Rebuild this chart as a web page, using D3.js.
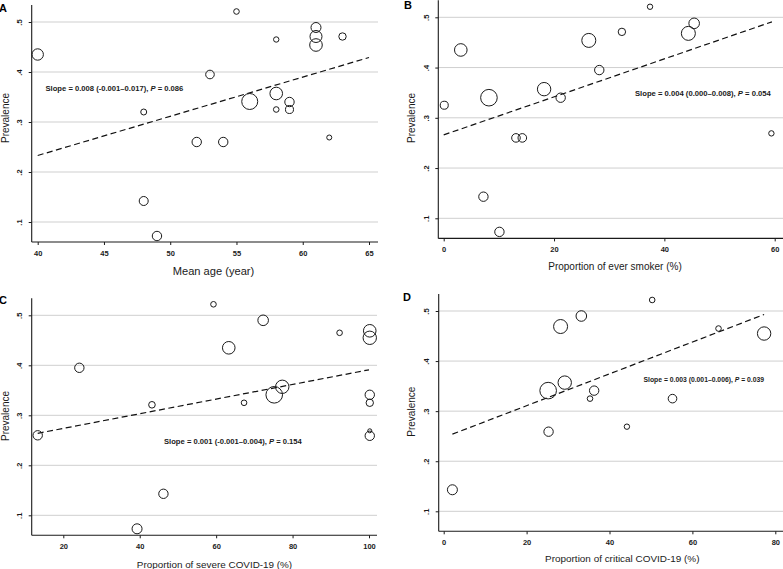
<!DOCTYPE html>
<html><head><meta charset="utf-8">
<script src="https://cdn.jsdelivr.net/npm/d3@7"></script>
<style>
html,body{margin:0;padding:0;background:#fff;}
svg{display:block;font-family:"Liberation Sans",Arial,Helvetica,sans-serif;}
</style></head>
<body>
<svg id="c" width="783" height="569"></svg>
<script>
// ---------- DATA ----------
// Panel A: mean age
const ageX = [40, 48, 48, 49, 52, 54, 53, 55, 56, 58, 58, 58, 59, 59, 61, 61, 61, 63, 62];
const ageY = [0.435, 0.32, 0.142, 0.072, 0.26, 0.26, 0.395, 0.521, 0.341, 0.357, 0.465, 0.325, 0.34, 0.325, 0.489, 0.471, 0.454, 0.471, 0.269];
const ageW = [330, 91, 206, 224, 224, 224, 188, 80, 650, 403, 74, 80, 224, 163, 254, 366, 403, 139, 64];
const ageFitX = [40, 65];
const ageFitY = [0.233, 0.429];

// Panel B: ever smoker
const smokeX = [0.1, 3.1, 8.2, 7.2, 10.1, 13.1, 14.25, 18.2, 21.2, 26.3, 28.2, 32.3, 37.4, 44.35, 45.4, 59.4];
const smokeY = [0.325, 0.435, 0.34, 0.143, 0.073, 0.26, 0.26, 0.357, 0.34, 0.454, 0.395, 0.471, 0.521, 0.468, 0.488, 0.269];
const smokeW = [163, 403, 700, 224, 224, 188, 188, 456, 224, 498, 224, 139, 74, 498, 285, 74];
const smokeFitX = [0, 59.5];
const smokeFitY = [0.266, 0.491];

// Panel C: severe COVID-19
const sevX = [13.3, 24.2, 43.2, 46.2, 39.3, 59.3, 72.3, 63.3, 92.3, 100.2, 100.2, 77.3, 75.2, 67.3, 100.2, 100.2, 100.2, 100.2];
const sevY = [0.26, 0.395, 0.321, 0.143, 0.073, 0.522, 0.49, 0.435, 0.465, 0.469, 0.455, 0.357, 0.341, 0.325, 0.341, 0.325, 0.269, 0.259];
const sevW = [224, 224, 111, 224, 254, 80, 285, 403, 80, 403, 456, 456, 700, 80, 224, 139, 41, 224];
const sevFitX = [13.3, 100];
const sevFitY = [0.264, 0.391];

// Panel D: critical COVID-19
const critX = [2.1, 25.3, 25.2, 29.2, 28.2, 33.2, 35.3, 36.3, 44.2, 50.3, 55.2, 66.3, 77.3];
const critY = [0.143, 0.259, 0.341, 0.357, 0.469, 0.49, 0.325, 0.341, 0.269, 0.522, 0.325, 0.465, 0.455];
const critW = [254, 224, 700, 456, 498, 285, 80, 224, 74, 80, 188, 80, 456];
const critFitX = [2.1, 77.3];
const critFitY = [0.254, 0.493];

const yTicks = [0.1, 0.2, 0.3, 0.4, 0.5];
const yTickLabels = [".1", ".2", ".3", ".4", ".5"];
const xTicksA = [40, 45, 50, 55, 60, 65];
const xTicksB = [0, 20, 40, 60];
const xTicksC = [20, 40, 60, 80, 100];
const xTicksD = [0, 20, 40, 60, 80];

const panelLetters = ["A", "B", "C", "D"];
const xTitles = ["Mean age (year)", "Proportion of ever smoker (%)", "Proportion of severe COVID-19 (%)", "Proportion of critical COVID-19 (%)"];
const yTitle = "Prevalence";
const notes = [
  ["Slope = 0.008 (-0.001\u20130.017), ", " = 0.086"],
  ["Slope = 0.004 (0.000\u20130.008), ", " = 0.054"],
  ["Slope = 0.001 (-0.001\u20130.004), ", " = 0.154"],
  ["Slope = 0.003 (0.001\u20130.006), ", " = 0.039"]
];

// ---------- LAYOUT ----------
const layout = [
  {xs: ageX, ys: ageY, ws: ageW, fx: ageFitX, fy: ageFitY, xt: xTicksA,
   xd: [40, 65], xr: [37.7, 369], yr: [222, 22], L: 31.7, R: 378, T: 5, B: 242,
   note: [45.5, 91], noteW: 138, title: [213.5, 275], titleW: 81.6, ytc: [5.3, 118], letter: [-1, 12]},
  {xs: smokeX, ys: smokeY, ws: smokeW, fx: smokeFitX, fy: smokeFitY, xt: xTicksB,
   xd: [0, 60], xr: [443.7, 774.7], yr: [218.3, 17.3], L: 438.3, R: 783, T: 0.2, B: 238.4,
   note: [635, 95.5], noteW: 136, title: [615, 269.5], titleW: 133.7, ytc: [411.7, 118], letter: [404, 9]},
  {xs: sevX, ys: sevY, ws: sevW, fx: sevFitX, fy: sevFitY, xt: xTicksC,
   xd: [20, 100], xr: [63.3, 369], yr: [515.3, 315.3], L: 31.7, R: 377, T: 298.3, B: 535.3,
   note: [164, 443.5], noteW: 138, title: [214.5, 567.5], titleW: 155.6, ytc: [5.3, 416], letter: [-1, 303.5]},
  {xs: critX, ys: critY, ws: critW, fx: critFitX, fy: critFitY, xt: xTicksD,
   xd: [0, 80], xr: [443.7, 775.3], yr: [511.3, 311], L: 438.7, R: 783, T: 294, B: 531.3,
   note: [643.5, 382], noteW: 120.5, title: [622.3, 562], titleW: 154.7, ytc: [411, 411.7], letter: [403, 301]}
];

const svg = d3.select("#c");
const rScale = d3.scaleSqrt().domain([0, 700]).range([0, 8.3]);
const ink = "#1a1a1a";

// scale a text's font size so its rendered width matches a target width
function fitWidth(sel, base, target) {
  const w = sel.node().getComputedTextLength();
  if (w > 0) sel.attr("font-size", (base * target / w).toFixed(2));
}

layout.forEach((p, i) => {
  const x = d3.scaleLinear().domain(p.xd).range(p.xr);
  const y = d3.scaleLinear().domain([0.1, 0.5]).range(p.yr);
  const g = svg.append("g");

  // gridlines
  g.selectAll("line.grid").data(yTicks).join("line")
    .attr("x1", p.L).attr("x2", p.R)
    .attr("y1", d => y(d)).attr("y2", d => y(d))
    .attr("stroke", "#cfcfcf").attr("stroke-width", 1);

  // y axis
  const yAxis = d3.axisLeft(y).tickValues(yTicks).tickSize(3)
    .tickFormat((d, k) => yTickLabels[k]);
  const ya = g.append("g").attr("transform", `translate(${p.L},0)`).call(yAxis);
  ya.select(".domain").remove();
  ya.selectAll(".tick line").attr("stroke", ink);
  ya.selectAll(".tick text")
    .attr("x", null).attr("dy", null)
    .attr("transform", "translate(-9.5,0) rotate(-90)")
    .attr("text-anchor", "middle")
    .attr("dy", "0em")
    .attr("font-size", 7.5).attr("fill", ink).attr("font-weight", "bold")
    .attr("font-family", "Liberation Sans, Arial, sans-serif");
  g.append("line").attr("x1", p.L).attr("x2", p.L).attr("y1", p.T).attr("y2", p.B)
    .attr("stroke", ink).attr("stroke-width", 1.1);

  // x axis
  const xAxis = d3.axisBottom(x).tickValues(p.xt).tickSize(3).tickFormat(d3.format("d"));
  const xa = g.append("g").attr("transform", `translate(0,${p.B})`).call(xAxis);
  xa.select(".domain").remove();
  xa.selectAll(".tick line").attr("stroke", ink);
  xa.selectAll(".tick text").attr("y", 8).attr("dy", "0.75em")
    .attr("font-size", 7.5).attr("fill", ink).attr("font-weight", "bold")
    .attr("font-family", "Liberation Sans, Arial, sans-serif");
  g.append("line").attr("x1", p.L).attr("x2", p.R).attr("y1", p.B).attr("y2", p.B)
    .attr("stroke", ink).attr("stroke-width", 1.1);

  // fit line
  const fitPts = p.fx.map((v, k) => [v, p.fy[k]]);
  g.append("path").datum(fitPts)
    .attr("d", d3.line().x(d => x(d[0])).y(d => y(d[1])))
    .attr("fill", "none").attr("stroke", "#111").attr("stroke-width", 1.2)
    .attr("stroke-dasharray", "6,3.5");

  // points
  const pts = p.xs.map((v, k) => ({x: v, y: p.ys[k], w: p.ws[k]}));
  g.selectAll("circle").data(pts).join("circle")
    .attr("cx", d => x(d.x)).attr("cy", d => y(d.y)).attr("r", d => rScale(d.w))
    .attr("fill", "none").attr("stroke", ink).attr("stroke-width", 1);

  // annotation
  const t = g.append("text").attr("x", p.note[0]).attr("y", p.note[1])
    .attr("font-size", 7.3).attr("fill", ink).attr("font-weight", "bold");
  t.append("tspan").text(notes[i][0]);
  t.append("tspan").attr("font-style", "italic").text("P");
  t.append("tspan").text(notes[i][1]);
  fitWidth(t, 7.3, p.noteW);

  // axis titles
  const xt = g.append("text").attr("x", p.title[0]).attr("y", p.title[1])
    .attr("text-anchor", "middle").attr("font-size", 10).attr("fill", ink)
    .text(xTitles[i]);
  fitWidth(xt, 10, p.titleW);
  g.append("text").attr("transform", `translate(${p.ytc[0] + 3.5},${p.ytc[1]}) rotate(-90)`)
    .attr("text-anchor", "middle").attr("font-size", 10).attr("fill", ink)
    .text(yTitle);

  // panel letter
  g.append("text").attr("x", p.letter[0]).attr("y", p.letter[1])
    .attr("font-size", 11).attr("font-weight", "bold").attr("fill", "#000")
    .text(panelLetters[i]);
});
</script>
</body></html>
